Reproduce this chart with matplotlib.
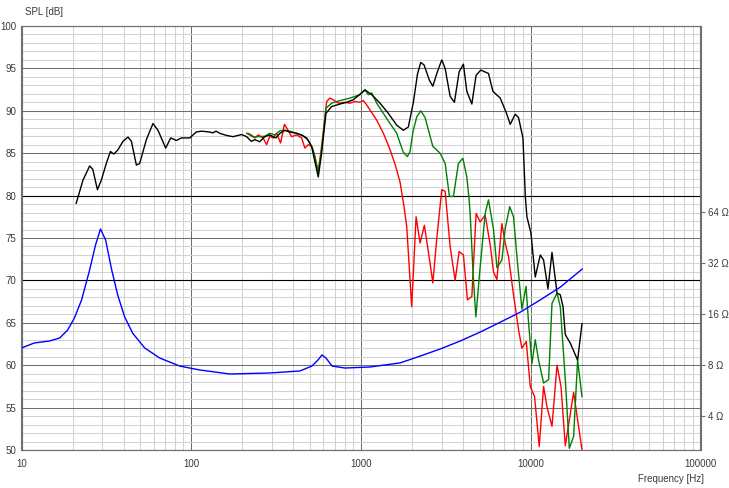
import matplotlib
matplotlib.use("Agg")
import matplotlib.pyplot as plt
from matplotlib.ticker import MultipleLocator, FixedLocator, NullFormatter, LogLocator, NullLocator

plt.rcParams['font.family'] = ['Liberation Sans', 'DejaVu Sans']

# ---------------- data ----------------
black_f = [21.0, 23.0, 25.2, 26.3, 28.0, 29.5, 31.6, 33.4, 35.0, 37.0, 39.6, 42.4, 44.4, 47.5,
           49.7, 54.4, 59.5, 63.7, 70.7, 75.7, 81.8, 87.5, 98, 107, 115, 128, 134, 140, 147,
           161, 176, 198, 212, 226, 237, 253, 271, 290, 315, 333, 356, 381, 417, 447, 478,
           512, 535, 560, 586, 622, 671, 752, 823, 901, 1056, 1156, 1294, 1449, 1624, 1777,
           1901, 2035, 2150, 2249, 2353, 2529, 2649, 2818, 2992, 3131, 3350, 3551, 3785, 4012,
           4201, 4497, 4765, 5081, 5636, 5984, 6608, 7170, 7567, 8101, 8472, 8995, 9284, 9494,
           10020, 10630, 11380, 11900, 12630, 13340, 14280, 14930, 15490, 15980, 17100, 18880,
           20040]
black_db = [79.1, 81.8, 83.5, 83.1, 80.7, 81.8, 83.8, 85.2, 84.9, 85.4, 86.4, 86.9, 86.4, 83.6,
            83.8, 86.6, 88.5, 87.7, 85.6, 86.8, 86.5, 86.8, 86.8, 87.5, 87.6, 87.5, 87.4, 87.6,
            87.35, 87.1, 86.95, 87.2, 86.95, 86.4, 86.6, 86.35, 86.95, 87.15, 86.8, 87.35, 87.7,
            87.5, 87.35, 87.15, 86.8, 85.8, 84.0, 82.2, 85.0, 89.7, 90.5, 90.8, 91.0, 91.3,
            92.45, 91.9, 90.9, 89.7, 88.3, 87.7, 88.1, 91.0, 94.3, 95.7, 95.4, 93.6, 92.9, 94.6,
            96.0, 95.0, 91.7, 91.0, 94.6, 95.5, 92.3, 90.8, 94.2, 94.8, 94.4, 92.3, 91.5, 89.8,
            88.4, 89.6, 89.2, 86.8, 80.0, 77.5, 75.6, 70.4, 73.0, 72.4, 69.0, 73.3, 68.5, 68.3,
            66.9, 63.6, 62.6, 60.6, 64.9]

green_f = [212, 232, 248, 272, 290, 310, 333, 348, 372, 418, 457, 489, 523, 560, 586, 622, 671,
           720, 861, 987, 1056, 1104, 1156, 1238, 1354, 1483, 1624, 1698, 1777, 1876, 1945, 2027,
           2132, 2249, 2385, 2649, 2924, 3131, 3319, 3503, 3750, 3981, 4201, 4335, 4395, 4598,
           4750, 5035, 5390, 5636, 6035, 6320, 6761, 7072, 7516, 7914, 8377, 8872, 9379, 9708,
           10160, 10630, 11120, 11900, 12740, 13340, 14280, 14930, 15980, 16870, 17890, 18880,
           20040]
green_db = [87.35, 86.9, 86.95, 87.0, 87.35, 87.15, 87.65, 87.7, 87.65, 87.35, 87.0, 86.55, 85.4,
            82.8, 85.4, 90.3, 90.9, 91.1, 91.5, 91.9, 92.5, 91.9, 92.1, 90.9, 89.7, 88.5, 87.35,
            86.2, 85.1, 84.6, 85.2, 87.6, 89.3, 90.0, 89.2, 85.8, 85.0, 83.8, 79.9, 79.9, 83.8,
            84.4, 82.2, 79.5, 77.9, 70.0, 65.7, 71.6, 77.9, 79.5, 76.0, 71.5, 72.4, 76.1, 78.7,
            77.5, 71.8, 66.6, 69.3, 65.0, 60.2, 63.0, 60.6, 57.9, 58.3, 67.3, 68.5, 66.9, 58.3,
            50.2, 51.6, 60.6, 56.3]

red_f = [216, 226, 237, 248, 265, 278, 290, 304, 318, 336, 354, 372, 390, 418, 447, 467, 489,
         512, 535, 560, 586, 628, 656, 687, 735, 805, 861, 922, 987, 1032, 1080, 1130, 1238, 1354,
         1418, 1483, 1588, 1698, 1793, 1860, 1989, 2111, 2229, 2363, 2553, 2649, 2797, 2992, 3131,
         3350, 3586, 3785, 4012, 4236, 4497, 4765, 5035, 5390, 5768, 6035, 6320, 6761, 7072,
         7396, 7914, 8472, 8872, 9408, 9931, 10530, 11220, 11900, 12460, 13340, 14280, 15070,
         15980, 17890, 20040]
red_db = [87.35, 87.15, 86.8, 87.15, 86.8, 86.0, 87.0, 86.8, 87.35, 86.2, 88.4, 87.7, 86.95,
          87.15, 86.8, 85.6, 86.0, 85.8, 84.6, 82.7, 85.8, 91.1, 91.5, 91.3, 90.9, 91.0, 90.9,
          91.1, 91.0, 91.2, 90.7, 90.1, 88.9, 87.35, 86.4, 85.4, 83.7, 81.6, 78.7, 76.3, 66.9,
          77.5, 74.4, 76.5, 72.0, 69.7, 75.0, 80.7, 80.5, 74.0, 70.0, 73.4, 73.0, 67.7, 68.1,
          77.9, 76.9, 77.7, 74.2, 71.0, 70.1, 76.7, 74.4, 72.8, 68.3, 64.2, 62.0, 62.8, 57.5,
          56.3, 50.4, 57.5, 55.1, 52.8, 60.0, 57.5, 50.5, 56.8, 50.0]

imp_f = [10, 11.9, 14.6, 16.8, 18.7, 20.5, 22.6, 25.2, 27.3, 29.2, 31.3, 34.0, 36.9, 40.5, 45.2,
         53.2, 65.2, 85.5, 112, 169, 290, 437, 514, 558, 589, 622, 675, 805, 1130, 1698, 2229,
         2924, 3837, 5035, 6607, 8670, 11380, 14930, 20130]
imp_ohm = [10.06, 10.77, 11.06, 11.53, 12.86, 15.15, 19.4, 29.2, 41.1, 51.1, 44.0, 29.2, 20.7,
           15.4, 12.3, 10.06, 8.77, 7.86, 7.45, 7.05, 7.15, 7.35, 7.86, 8.54, 9.14, 8.77, 7.86,
           7.65, 7.76, 8.2, 9.0, 9.92, 11.06, 12.5, 14.3, 16.4, 19.4, 23.1, 29.6]

x_ticks = [10, 100, 1000, 10000, 100000]
y_ticks = [50, 55, 60, 65, 70, 75, 80, 85, 90, 95, 100]
imp_ticks = [4, 8, 16, 32, 64]

# ---------------- figure ----------------
W, H = 729, 488
fig = plt.figure(figsize=(W / 100, H / 100), dpi=100)
x0, x1, y0, y1 = 21.5, 700.5, 26, 450
ax = fig.add_axes([x0 / W, 1 - y1 / H, (x1 - x0) / W, (y1 - y0) / H])

ax.set_xscale('log')
ax.set_xlim(10, 100000)
ax.set_ylim(50, 100)

txt = '#3a3a3a'
fs = 7
ax.xaxis.set_major_locator(FixedLocator(x_ticks))
ax.set_xticklabels([str(t) for t in x_ticks])
ax.xaxis.set_minor_locator(LogLocator(base=10, subs=range(2, 10)))
ax.xaxis.set_minor_formatter(NullFormatter())
ax.yaxis.set_major_locator(FixedLocator(y_ticks))
ax.yaxis.set_minor_locator(MultipleLocator(1))
ax.tick_params(which='both', length=0, labelsize=fs, colors=txt)
ax.tick_params(axis='y', pad=3.5)
ax.tick_params(axis='x', pad=6.5)

ax.grid(which='minor', color='#d2d2d2', lw=0.75, zorder=0)
ax.grid(which='major', color='#6e6e6e', lw=0.75, zorder=0.5)
for v in (70, 80):
    ax.axhline(v, color='black', lw=0.8, zorder=0.8)
ax.set_axisbelow(True)

for s in ax.spines.values():
    s.set_color('#707070')
    s.set_linewidth(0.8)

ax.plot(red_f, red_db, color='#ff0000', lw=1.0, zorder=3, clip_on=True)
ax.plot(green_f, green_db, color='#008000', lw=1.0, zorder=4)
ax.plot(black_f, black_db, color='#000000', lw=1.0, zorder=5)

# impedance axis
ax2 = ax.twinx()
ax2.set_yscale('log', base=2)
ylo = 4 * 2 ** (-(450 - 415.5) / 50.75)
yhi = ylo * 2 ** ((450 - 26) / 50.75)
ax2.set_ylim(ylo, yhi)
ax2.yaxis.set_major_locator(FixedLocator(imp_ticks))
ax2.yaxis.set_minor_locator(NullLocator())
ax2.set_yticklabels([f'{t} Ω' for t in imp_ticks])
ax2.tick_params(axis='y', length=3.5, width=0.8, color='#707070', labelsize=fs,
                labelcolor=txt, pad=2)
for s in ax2.spines.values():
    s.set_color('#707070')
    s.set_linewidth(0.8)
ax2.plot(imp_f, imp_ohm, color='#0000ff', lw=1.0, zorder=2)

fig.text(25 / W, 1 - 12 / H, 'SPL [dB]', fontsize=fs, color=txt, ha='left', va='center')
fig.text(704 / W, 1 - 479.5 / H, 'Frequency [Hz]', fontsize=fs, color=txt, ha='right', va='center')

fig.savefig('out.png', dpi=100, facecolor='white')
